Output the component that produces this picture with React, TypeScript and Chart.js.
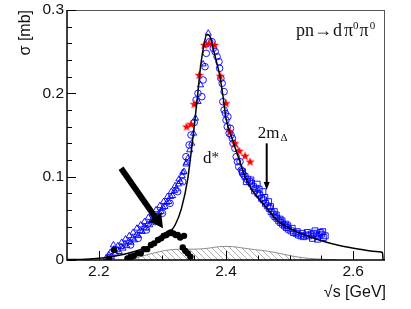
import React, { useEffect, useRef } from "react";
import { Chart, registerables } from "chart.js";
Chart.register(...registerables);

// ---------- data ----------
const modelX = [2.15, 2.18, 2.2, 2.22, 2.24, 2.26, 2.28, 2.3, 2.31, 2.32, 2.33, 2.34, 2.345, 2.35, 2.355, 2.36, 2.365, 2.37, 2.375, 2.38, 2.385, 2.39, 2.395, 2.4, 2.41, 2.42, 2.43, 2.44, 2.45, 2.46, 2.48, 2.5, 2.52, 2.55, 2.58, 2.61, 2.64, 2.646, 2.647];
const modelY = [0.0005, 0.001, 0.002, 0.004, 0.007, 0.011, 0.017, 0.026, 0.032, 0.042, 0.062, 0.098, 0.128, 0.16, 0.195, 0.232, 0.257, 0.271, 0.268, 0.253, 0.238, 0.222, 0.198, 0.17, 0.145, 0.122, 0.1, 0.085, 0.075, 0.066, 0.048, 0.038, 0.031, 0.023, 0.017, 0.013, 0.01, 0.009, 0];

const triX = [2.212, 2.216, 2.22, 2.223, 2.226, 2.229, 2.232, 2.235, 2.238, 2.241, 2.244, 2.247, 2.25, 2.253, 2.256, 2.259, 2.262, 2.265, 2.268, 2.271, 2.274, 2.277, 2.28, 2.283, 2.286, 2.289, 2.292, 2.295, 2.298, 2.301, 2.304, 2.307, 2.31, 2.313, 2.316, 2.319, 2.322, 2.325, 2.328, 2.331, 2.334, 2.337, 2.34, 2.343, 2.346, 2.349, 2.352, 2.356, 2.36, 2.364, 2.368, 2.372,
  2.218, 2.224, 2.23, 2.236, 2.242, 2.248, 2.254, 2.26, 2.266, 2.272, 2.278, 2.284, 2.29, 2.296, 2.302, 2.308, 2.314, 2.32, 2.326, 2.332, 2.338];
const triY = [0.003, 0.006, 0.004, 0.018, 0.008, 0.012, 0.01, 0.016, 0.014, 0.019, 0.017, 0.022, 0.021, 0.026, 0.024, 0.03, 0.029, 0.035, 0.034, 0.039, 0.038, 0.043, 0.042, 0.047, 0.047, 0.052, 0.052, 0.057, 0.058, 0.063, 0.064, 0.069, 0.07, 0.076, 0.077, 0.083, 0.085, 0.091, 0.094, 0.101, 0.106, 0.115, 0.122, 0.132, 0.14, 0.152, 0.17, 0.19, 0.21, 0.235, 0.258, 0.272,
  0.009, 0.013, 0.017, 0.021, 0.025, 0.029, 0.033, 0.038, 0.042, 0.046, 0.051, 0.055, 0.06, 0.065, 0.07, 0.076, 0.082, 0.089, 0.097, 0.105, 0.117];

const circX = [2.25, 2.262, 2.275, 2.288, 2.3, 2.312, 2.324, 2.332, 2.337, 2.342, 2.345, 2.35, 2.353, 2.356, 2.362, 2.364, 2.367, 2.369, 2.374, 2.378, 2.383, 2.386, 2.389, 2.392, 2.394, 2.397, 2.397, 2.4, 2.403, 2.405, 2.408, 2.411, 2.414, 2.416, 2.42, 2.424, 2.428,
  2.38, 2.39, 2.395, 2.399, 2.402, 2.407, 2.41, 2.418, 2.422, 2.426];
const circY = [0.018, 0.026, 0.036, 0.046, 0.056, 0.068, 0.082, 0.094, 0.124, 0.138, 0.15, 0.165, 0.192, 0.2, 0.196, 0.216, 0.232, 0.248, 0.262, 0.262, 0.25, 0.244, 0.238, 0.218, 0.212, 0.202, 0.18, 0.168, 0.172, 0.152, 0.15, 0.14, 0.134, 0.124, 0.112, 0.108, 0.102,
  0.254, 0.23, 0.19, 0.176, 0.16, 0.158, 0.146, 0.118, 0.118, 0.104];

const sqX = [2.426, 2.43, 2.434, 2.437, 2.44, 2.443, 2.447, 2.449, 2.45, 2.453, 2.456, 2.458, 2.459, 2.462, 2.465, 2.467, 2.468, 2.471, 2.474, 2.476, 2.477, 2.48, 2.483, 2.485, 2.486, 2.489, 2.492, 2.494, 2.495, 2.498, 2.502, 2.506, 2.51, 2.514, 2.518, 2.522, 2.526, 2.53, 2.534, 2.536, 2.538, 2.542, 2.544, 2.546, 2.55, 2.553, 2.556,
  2.432, 2.439, 2.445, 2.452, 2.461, 2.47, 2.479, 2.488, 2.497, 2.504, 2.512, 2.52, 2.528, 2.54, 2.548, 2.552];
const sqY = [0.106, 0.1, 0.097, 0.094, 0.092, 0.088, 0.086, 0.091, 0.08, 0.078, 0.074, 0.082, 0.072, 0.068, 0.065, 0.07, 0.062, 0.058, 0.055, 0.058, 0.052, 0.05, 0.047, 0.049, 0.045, 0.043, 0.041, 0.043, 0.039, 0.037, 0.035, 0.033, 0.032, 0.03, 0.029, 0.028, 0.03, 0.029, 0.031, 0.026, 0.032, 0.03, 0.025, 0.029, 0.031, 0.027, 0.029,
  0.094, 0.096, 0.083, 0.085, 0.075, 0.064, 0.054, 0.047, 0.041, 0.038, 0.034, 0.032, 0.033, 0.035, 0.033, 0.034];

const starX = [2.338, 2.345, 2.35, 2.358, 2.366, 2.373, 2.382, 2.391, 2.4, 2.406, 2.414, 2.421, 2.43, 2.438];
const starY = [0.16, 0.163, 0.187, 0.222, 0.258, 0.26, 0.258, 0.221, 0.188, 0.154, 0.14, 0.131, 0.125, 0.118];

const dotX = [2.216, 2.224, 2.245, 2.25, 2.255, 2.261, 2.266, 2.271, 2.276, 2.282, 2.287, 2.293, 2.298, 2.302, 2.306, 2.31, 2.313, 2.317, 2.321, 2.324, 2.328, 2.334, 2.332, 2.336, 2.34, 2.344];
const dotY = [0.002, 0.012, 0.002, 0.004, 0.005, 0.008, 0.008, 0.013, 0.013, 0.018, 0.02, 0.024, 0.026, 0.029, 0.03, 0.032, 0.033, 0.032, 0.03, 0.03, 0.027, 0.029, 0.015, 0.011, 0.008, 0.004];

const bgX = [2.25, 2.27, 2.29, 2.31, 2.33, 2.35, 2.37, 2.39, 2.41, 2.43, 2.45, 2.47, 2.49, 2.51, 2.53, 2.55, 2.565, 2.575];
const bgY = [0, 0.005, 0.009, 0.012, 0.013, 0.013, 0.014, 0.016, 0.016, 0.014, 0.012, 0.01, 0.007, 0.004, 0.002, 0.001, 0.0005, 0];

const xMajorTicks = [2.2, 2.4, 2.6];
const xTickLabels = ["2.2", "2.4", "2.6"];
const xMinorTicks = [2.25, 2.3, 2.35, 2.45, 2.5, 2.55];
const yMajorTicks = [0, 0.1, 0.2, 0.3];
const yTickLabels = ["0", "0.1", "0.2", "0.3"];
const yMinorTicks = [0.02, 0.04, 0.06, 0.08, 0.12, 0.14, 0.16, 0.18, 0.22, 0.24, 0.26, 0.28];

const X_MIN = 2.15, X_MAX = 2.65, Y_MIN = 0, Y_MAX = 0.3;

// annotation anchors (data coordinates)
const bigArrow = { x0: 2.235, y0: 0.11, x1: 2.301, y1: 0.038 };
const deltaArrow = { x: 2.464, y0: 0.14, y1: 0.084 };
const dStarPos = { x: 2.364, y: 0.116 };
const mDeltaPos = { x: 2.45, y: 0.146 };
const reactionPos = { x: 2.51, y: 0.269 };

const BLUE = "rgba(0,0,255,0.9)";
const SANS = "'Liberation Sans', Arial, sans-serif";
const SERIF = "'Liberation Serif', 'Times New Roman', serif";

const pts = (xs: number[], ys: number[]) => xs.map((x, i) => ({ x, y: ys[i] }));

function makeStar(): HTMLCanvasElement {
  const c = document.createElement("canvas");
  c.width = 10; c.height = 10;
  const g = c.getContext("2d")!;
  g.fillStyle = "#ff0000";
  g.beginPath();
  for (let i = 0; i < 10; i++) {
    const r = i % 2 === 0 ? 4.8 : 2.0;
    const a = -Math.PI / 2 + (i * Math.PI) / 5;
    const px = 5 + r * Math.cos(a), py = 5.3 + r * Math.sin(a);
    if (i === 0) g.moveTo(px, py); else g.lineTo(px, py);
  }
  g.closePath();
  g.fill();
  return c;
}

function makeHatch(ctx: CanvasRenderingContext2D): CanvasPattern | string {
  const c = document.createElement("canvas");
  c.width = 6; c.height = 6;
  const g = c.getContext("2d")!;
  g.strokeStyle = "#9a9a9a";
  g.lineWidth = 0.8;
  g.beginPath();
  g.moveTo(-1, -1); g.lineTo(7, 7);
  g.stroke();
  return ctx.createPattern(c, "repeat") || "#ccc";
}

type Seg = { t: string; size: number; dy?: number; gap?: number };
function drawRich(ctx: CanvasRenderingContext2D, x: number, y: number, segs: Seg[], family: string) {
  let cx = x;
  for (const s of segs) {
    ctx.font = `${s.size}px ${family}`;
    ctx.fillText(s.t, cx, y + (s.dy || 0));
    cx += ctx.measureText(s.t).width + (s.gap || 0);
  }
}

const decorPlugin = {
  id: "decor",
  afterDatasetsDraw(chart: any) {
    const ctx: CanvasRenderingContext2D = chart.ctx;
    const xs = chart.scales.x, ys = chart.scales.y;
    const { left, right, top, bottom } = chart.chartArea;
    ctx.save();
    // frame
    ctx.lineWidth = 1;
    ctx.strokeStyle = "#555";
    ctx.beginPath();
    ctx.moveTo(left, top + 0.5); ctx.lineTo(right, top + 0.5);
    ctx.moveTo(right - 0.5, top); ctx.lineTo(right - 0.5, bottom);
    ctx.stroke();
    ctx.strokeStyle = "#000";
    ctx.lineWidth = 1.5;
    ctx.beginPath();
    ctx.moveTo(left, top); ctx.lineTo(left, bottom); ctx.lineTo(right, bottom);
    ctx.stroke();
    // ticks
    ctx.lineWidth = 1;
    ctx.beginPath();
    for (const v of xMajorTicks) { const p = Math.round(xs.getPixelForValue(v)) + 0.5; ctx.moveTo(p, bottom); ctx.lineTo(p, bottom - 9); }
    for (const v of xMinorTicks) { const p = Math.round(xs.getPixelForValue(v)) + 0.5; ctx.moveTo(p, bottom); ctx.lineTo(p, bottom - 4.5); }
    for (const v of yMajorTicks) { const p = Math.round(ys.getPixelForValue(v)) + 0.5; ctx.moveTo(left, p); ctx.lineTo(left + 9, p); }
    for (const v of yMinorTicks) { const p = Math.round(ys.getPixelForValue(v)) + 0.5; ctx.moveTo(left, p); ctx.lineTo(left + 5, p); }
    ctx.stroke();
    // tick labels
    ctx.fillStyle = "#111";
    ctx.font = `15.5px ${SANS}`;
    ctx.textAlign = "center"; ctx.textBaseline = "middle";
    xMajorTicks.forEach((v, i) => ctx.fillText(xTickLabels[i], xs.getPixelForValue(v), bottom + 12));
    ctx.textAlign = "right";
    yMajorTicks.forEach((v, i) => ctx.fillText(yTickLabels[i], left - 3, ys.getPixelForValue(v)));
    // axis titles
    ctx.font = `16px ${SANS}`;
    ctx.textAlign = "right"; ctx.textBaseline = "middle";
    ctx.fillText("√s [GeV]", right + 1, bottom + 33);
    ctx.save();
    ctx.translate(26, top);
    ctx.rotate(-Math.PI / 2);
    ctx.fillText("σ [mb]", 0, 0);
    ctx.restore();

    // big arrow
    const ax0 = xs.getPixelForValue(bigArrow.x0), ay0 = ys.getPixelForValue(bigArrow.y0);
    const ax1 = xs.getPixelForValue(bigArrow.x1), ay1 = ys.getPixelForValue(bigArrow.y1);
    const ang = Math.atan2(ay1 - ay0, ax1 - ax0);
    const hl = 14, hw = 7.5;
    const bx = ax1 - hl * Math.cos(ang), by = ay1 - hl * Math.sin(ang);
    ctx.strokeStyle = "#000"; ctx.fillStyle = "#000";
    ctx.lineWidth = 6; ctx.lineCap = "butt";
    ctx.beginPath(); ctx.moveTo(ax0, ay0); ctx.lineTo(bx, by); ctx.stroke();
    ctx.beginPath();
    ctx.moveTo(ax1, ay1);
    ctx.lineTo(bx + hw * Math.sin(ang), by - hw * Math.cos(ang));
    ctx.lineTo(bx - hw * Math.sin(ang), by + hw * Math.cos(ang));
    ctx.closePath(); ctx.fill();

    // 2m_Delta arrow
    const dx = xs.getPixelForValue(deltaArrow.x);
    const dy0 = ys.getPixelForValue(deltaArrow.y0), dy1 = ys.getPixelForValue(deltaArrow.y1);
    ctx.lineWidth = 2;
    ctx.beginPath(); ctx.moveTo(dx, dy0); ctx.lineTo(dx, dy1 - 6); ctx.stroke();
    ctx.beginPath(); ctx.moveTo(dx, dy1); ctx.lineTo(dx - 3, dy1 - 8); ctx.lineTo(dx + 3, dy1 - 8); ctx.closePath(); ctx.fill();

    // texts
    ctx.textAlign = "left"; ctx.textBaseline = "alphabetic";
    ctx.fillStyle = "#111";
    drawRich(ctx, xs.getPixelForValue(dStarPos.x), ys.getPixelForValue(dStarPos.y), [{ t: "d", size: 17 }, { t: "*", size: 15, dy: -1 }], SERIF);
    drawRich(ctx, xs.getPixelForValue(mDeltaPos.x), ys.getPixelForValue(mDeltaPos.y), [{ t: "2m", size: 17, gap: 1 }, { t: "Δ", size: 11, dy: 3 }], SERIF);
    drawRich(ctx, xs.getPixelForValue(reactionPos.x), ys.getPixelForValue(reactionPos.y), [
      { t: "pn", size: 18 }, { t: "→", size: 18, gap: 1 }, { t: "d", size: 18, gap: 2 },
      { t: "π", size: 18 }, { t: "0", size: 11, dy: -7, gap: 1 }, { t: "π", size: 18, gap: 1 }, { t: "0", size: 11, dy: -7 },
    ], SERIF);
    ctx.restore();
  },
};

export default function App() {
  const ref = useRef<HTMLCanvasElement | null>(null);
  useEffect(() => {
    const canvas = ref.current!;
    const ctx = canvas.getContext("2d")!;
    const star = makeStar();
    const hatch = makeHatch(ctx);
    const chart = new Chart(canvas, {
      type: "scatter",
      data: {
        datasets: [
          { type: "line", label: "model", data: pts(modelX, modelY), borderColor: "#000", borderWidth: 1.5, pointRadius: 0, cubicInterpolationMode: "monotone", fill: false, order: 0 } as any,
          { label: "dots", data: pts(dotX, dotY), pointStyle: "circle", pointRadius: 3.2, backgroundColor: "#000", borderColor: "#000", borderWidth: 0, order: 1 },
          { label: "stars", data: pts(starX, starY), pointStyle: star, pointRadius: 5, order: 2 } as any,
          { label: "squares", data: pts(sqX, sqY), pointStyle: "rect", pointRadius: 4.2, backgroundColor: "rgba(0,0,0,0)", borderColor: BLUE, borderWidth: 1, order: 3 },
          { label: "triangles", data: pts(triX, triY), pointStyle: "triangle", pointRadius: 3.6, backgroundColor: "rgba(0,0,0,0)", borderColor: BLUE, borderWidth: 1, order: 4 },
          { label: "circles", data: pts(circX, circY), pointStyle: "circle", pointRadius: 3.3, backgroundColor: "rgba(0,0,0,0)", borderColor: BLUE, borderWidth: 1, order: 5 },
          { type: "line", label: "bg", data: pts(bgX, bgY), borderColor: "#8a8a8a", borderWidth: 1, pointRadius: 0, tension: 0.4, fill: "origin", backgroundColor: hatch, order: 6 } as any,
        ],
      },
      options: {
        animation: false,
        responsive: false,
        devicePixelRatio: 1,
        events: [],
        layout: { padding: { left: 67, top: 10, right: 26, bottom: 49 } },
        scales: {
          x: { type: "linear", min: X_MIN, max: X_MAX, display: false },
          y: { type: "linear", min: Y_MIN, max: Y_MAX, display: false },
        },
        plugins: { legend: { display: false }, tooltip: { enabled: false } },
      },
      plugins: [decorPlugin],
    });
    return () => chart.destroy();
  }, []);
  return (
    <div style={{ position: "absolute", left: 0, top: 0, width: 411, height: 309, background: "#fff" }}>
      <canvas ref={ref} width={411} height={309} style={{ display: "block", width: 411, height: 309 }} />
    </div>
  );
}
